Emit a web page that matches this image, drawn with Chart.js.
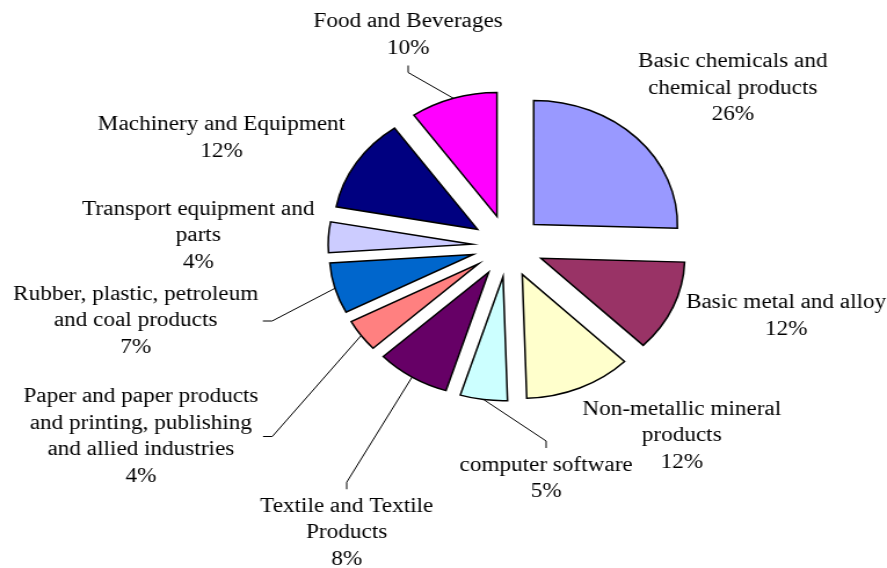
<!DOCTYPE html>
<html>
<head>
<meta charset="utf-8">
<title>Industry shares</title>
<script src="https://cdn.jsdelivr.net/npm/chart.js@4.4.1/dist/chart.umd.min.js"></script>
<style>
    html, body { margin: 0; padding: 0; background: #fff; }
    /* the reference is stretched sideways, so the canvas is drawn narrow and widened */
    #chart { display: block; width: 887px !important; height: 568px !important; }
</style>
</head>
<body>
<canvas id="chart" width="765" height="568" style="width:887px;height:568px"></canvas>
<script>
const categories = [
    ['Basic chemicals and', 'chemical products'],
    ['Basic metal and alloy'],
    ['Non-metallic mineral', 'products'],
    ['computer software'],
    ['Textile and Textile', 'Products'],
    ['Paper and paper products', 'and printing, publishing', 'and allied industries'],
    ['Rubber, plastic, petroleum', 'and coal products'],
    ['Transport equipment and', 'parts'],
    ['Machinery and Equipment'],
    ['Food and Beverages']
];
const shares = [25.5, 11.9, 12.1, 5.3, 8.3, 4.2, 6.6, 4.0, 12.3, 9.8];
const sliceColors = ['#9999FF', '#993366', '#FFFFCC', '#CCFFFF', '#660066', '#FF8080', '#0066CC', '#CCCCFF', '#000080', '#FF00FF'];

// label block centres, relative to the pie centre
const labelOffsets = [[194, -157.5], [240, 70], [150, 190], [33, 232.5], [-139, 287],
                      [-316.5, 190.5], [-321, 75], [-267, -10], [-247, -108], [-86, -211]];
// which side of the label the leader line leaves from
const leaderSide = [null, null, null, 'top', 'top', 'right', 'right', null, null, 'bottom'];

const EXPLODE = 31;
const LINE_H = 26.5;

// pull every slice out along its middle angle by the same distance
const explodeSlices = {
    id: 'explodeSlices',
    afterDatasetsUpdate(chart) {
        chart.getDatasetMeta(0).data.forEach((arc) => {
            const mid = (arc.startAngle + arc.endAngle) / 2;
            arc.x += Math.cos(mid) * EXPLODE;
            arc.y += Math.sin(mid) * EXPLODE;
        });
    }
};

const sliceLabels = {
    id: 'sliceLabels',
    afterDatasetsDraw(chart) {
        const ctx = chart.ctx;
        const area = chart.chartArea;
        const cx = (area.left + area.right) / 2;
        const cy = (area.top + area.bottom) / 2;
        const total = shares.reduce((a, b) => a + b, 0);

        ctx.save();
        ctx.font = '20px "Liberation Serif", "Times New Roman", serif';
        ctx.fillStyle = '#000';
        ctx.strokeStyle = '#000';
        ctx.lineWidth = 1;
        ctx.textAlign = 'center';
        ctx.textBaseline = 'middle';

        chart.getDatasetMeta(0).data.forEach((arc, i) => {
            const lines = categories[i].concat(Math.round(shares[i] * 100 / total) + '%');
            const lx = cx + labelOffsets[i][0];
            const ly = cy + labelOffsets[i][1];
            const halfH = lines.length * LINE_H / 2;
            const halfW = Math.max(...lines.map(t => ctx.measureText(t).width)) / 2;

            if (leaderSide[i]) {
                const mid = (arc.startAngle + arc.endAngle) / 2;
                const tx = arc.x + Math.cos(mid) * arc.outerRadius;
                const ty = arc.y + Math.sin(mid) * arc.outerRadius;
                let ax, ay, bx, by;
                if (leaderSide[i] === 'right') {
                    ax = lx + halfW + 4; ay = ly; bx = ax + 8; by = ay;
                } else if (leaderSide[i] === 'top') {
                    ax = lx; ay = ly - halfH - 4; bx = ax; by = ay - 7;
                } else {
                    ax = lx; ay = ly + halfH + 4; bx = ax; by = ay + 7;
                }
                ctx.beginPath();
                ctx.moveTo(ax, ay);
                ctx.lineTo(bx, by);
                ctx.lineTo(tx, ty);
                ctx.stroke();
            }

            lines.forEach((t, k) => {
                ctx.fillText(t, lx, ly + (k - (lines.length - 1) / 2) * LINE_H);
            });
        });
        ctx.restore();
    }
};

const ctx = document.getElementById('chart').getContext('2d');
new Chart(ctx, {
    type: 'pie',
    data: {
        labels: categories,
        datasets: [{
            data: shares,
            backgroundColor: sliceColors,
            borderColor: '#000',
            borderWidth: 1.5,
            borderJoinStyle: 'miter'
        }]
    },
    options: {
        responsive: false,
        animation: false,
        events: [],
        radius: 124,
        layout: { padding: { left: 111, right: 0, top: 0, bottom: 76 } },
        plugins: {
            legend: { display: false },
            tooltip: { enabled: false }
        }
    },
    plugins: [explodeSlices, sliceLabels]
});
</script>
</body>
</html>
